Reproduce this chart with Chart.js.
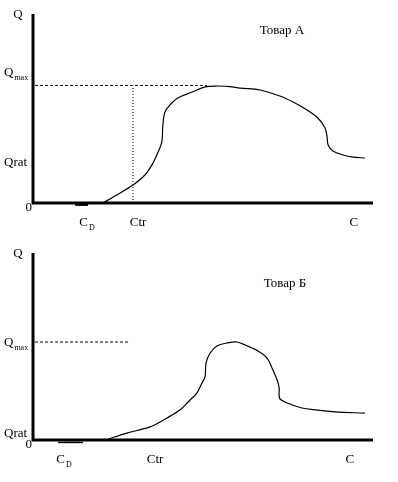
<!DOCTYPE html>
<html>
<head>
<meta charset="utf-8">
<script src="https://cdn.jsdelivr.net/npm/chart.js@4.4.0/dist/chart.umd.min.js"></script>
<style>
    html, body { margin: 0; padding: 0; background: #fff; }
    canvas { display: block; }
</style>
</head>
<body>
<canvas id="chartA" width="398" height="241"></canvas>
<canvas id="chartB" width="398" height="241"></canvas>
<script>
// Товар А: C on x (0-100), Q on y (0-100)
const curveAX = [20.6, 24.1, 29.4, 32.9, 35.3, 36.8, 37.9, 38.2, 38.8, 40.3, 42.6, 46.8, 50.6, 54.4, 57.9,
                 60.9, 66.8, 72.6, 76.5, 80.6, 83.8, 85.9, 86.5, 86.8, 88.2, 91.2, 94.1, 97.6];
const curveAY = [0, 3.7, 9.5, 14.8, 21.2, 27.0, 32.3, 41.3, 48.1, 51.9, 55.6, 58.7, 61.4, 61.9, 61.6,
                 60.8, 59.8, 56.6, 53.4, 49.2, 45.0, 39.7, 34.9, 30.7, 27.5, 25.4, 24.3, 23.8];
const qmaxA = 62.2;
const ctrA = 29.4;
const cdSpanA = [12.4, 16.2];
const xTickValuesA = [15.9, 30.9, 94.4];
const yTickValuesA = [68.8, 21.2];

// Товар Б
const curveBX = [22.1, 27.6, 34.4, 39.4, 43.2, 46.2, 48.2, 49.7, 50.6, 50.9, 52.1, 54.1, 57.1, 60.0, 62.4,
                 66.2, 68.8, 70.3, 71.8, 72.4, 72.5, 74.1, 79.1, 83.8, 88.8, 97.6];
const curveBY = [0.5, 3.7, 7.0, 11.8, 16.0, 21.4, 25.1, 30.5, 33.7, 41.2, 46.5, 50.3, 51.9, 52.4, 50.8,
                 47.6, 43.9, 38.5, 32.1, 27.8, 22.5, 20.3, 17.1, 16.0, 15.0, 14.4];
const qmaxB = 52.4;
const qmaxLineEndB = 28.2;
const cdSpanB = [7.4, 14.7];
const xTickValuesB = [9.1, 35.9, 93.2];
const yTickValuesB = [51.9, 3.7];

const xTickLabels = ['C_D', 'Ctr', 'C'];
const yTickLabels = ['Q_max', 'Qrat'];
const titles = ['Товар А', 'Товар Б'];
const titlePosA = [73.2, 91];
const titlePosB = [74.1, 83.4];

const FONT = '"Liberation Serif", "Times New Roman", serif';

function drawText(ctx, text, x, y, align) {
    const [main, sub] = text.split('_');
    ctx.font = '13px ' + FONT;
    const wMain = ctx.measureText(main).width;
    let wSub = 0;
    if (sub) {
        ctx.font = '8px ' + FONT;
        wSub = ctx.measureText(sub).width + 1;
    }
    const w = wMain + wSub;
    let x0 = x;
    if (align === 'center') x0 = x - w / 2;
    if (align === 'right') x0 = x - w;
    ctx.textAlign = 'left';
    ctx.textBaseline = 'middle';
    ctx.font = '13px ' + FONT;
    ctx.fillText(main, x0, y);
    if (sub) {
        ctx.font = '8px ' + FONT;
        ctx.fillText(sub, x0 + wMain + 1, y + 5);
    }
}

const axesAndLabels = {
    id: 'axesAndLabels',
    beforeDatasetsDraw(chart) {
        const { ctx, chartArea: a, scales: { y } } = chart;
        const y0 = y.getPixelForValue(0);
        ctx.save();
        ctx.strokeStyle = '#000';
        ctx.lineWidth = 3;
        ctx.beginPath();
        ctx.moveTo(a.left, a.top);
        ctx.lineTo(a.left, y0 + 1.5);
        ctx.moveTo(a.left, y0);
        ctx.lineTo(a.right, y0);
        ctx.stroke();
        ctx.restore();
    },
    afterDatasetsDraw(chart, args, opts) {
        const { ctx, chartArea: a, scales: { x, y } } = chart;
        const y0 = y.getPixelForValue(0);
        ctx.save();
        ctx.fillStyle = '#000';
        // axis title Q and origin
        drawText(ctx, 'Q', a.left - 15, y.getPixelForValue(100) + 1, 'center');
        drawText(ctx, '0', a.left - 1, y0 + 5, 'right');
        opts.yTicks.forEach((v, i) => drawText(ctx, yTickLabels[i], 4, y.getPixelForValue(v), 'left'));
        opts.xTicks.forEach((v, i) => drawText(ctx, xTickLabels[i], x.getPixelForValue(v), y0 + 20, 'center'));
        drawText(ctx, opts.title, x.getPixelForValue(opts.titlePos[0]), y.getPixelForValue(opts.titlePos[1]), 'center');
        ctx.restore();
    }
};

function line(xs, ys, extra) {
    return Object.assign({
        data: xs.map((v, i) => ({ x: v, y: ys[i] })),
        borderColor: '#000',
        borderWidth: 1,
        pointRadius: 0,
        fill: false,
        clip: false,
    }, extra);
}

function makeChart(id, datasets, padding, pluginOpts) {
    return new Chart(document.getElementById(id), {
        type: 'line',
        data: { datasets: datasets },
        options: {
            responsive: false,
            animation: false,
            layout: { padding: padding },
            scales: {
                x: { type: 'linear', min: 0, max: 100, display: false },
                y: { type: 'linear', min: 0, max: 100, display: false }
            },
            plugins: {
                legend: { display: false },
                tooltip: { enabled: false },
                axesAndLabels: pluginOpts
            }
        },
        plugins: [axesAndLabels]
    });
}

makeChart('chartA', [
    line(curveAX, curveAY, { tension: 0.35, borderWidth: 1.2 }),
    line([0.6, 51.2], [qmaxA, qmaxA], { borderDash: [3, 2] }),
    line([ctrA, ctrA], [0, qmaxA], { borderDash: [1, 2] }),
    line(cdSpanA, [-1, -1], { borderWidth: 2 })
], { left: 33, right: 25, top: 14, bottom: 38 },
{ xTicks: xTickValuesA, yTicks: yTickValuesA, title: titles[0], titlePos: titlePosA });

makeChart('chartB', [
    line(curveBX, curveBY, { tension: 0.35, borderWidth: 1.2 }),
    line([0.6, qmaxLineEndB], [qmaxB, qmaxB], { borderDash: [3, 2] }),
    line(cdSpanB, [-1.3, -1.3], { borderWidth: 1.5 })
], { left: 33, right: 25, top: 12, bottom: 42 },
{ xTicks: xTickValuesB, yTicks: yTickValuesB, title: titles[1], titlePos: titlePosB });
</script>
</body>
</html>
